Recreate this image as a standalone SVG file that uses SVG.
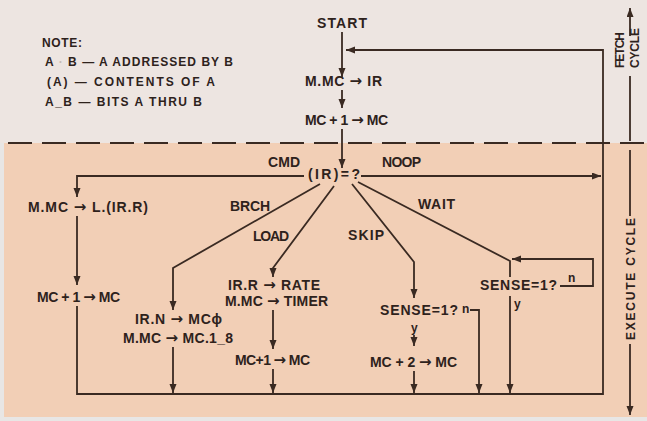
<svg xmlns="http://www.w3.org/2000/svg" width="647" height="421" viewBox="0 0 647 421">
<style>
.t{font-family:"Liberation Sans","DejaVu Sans",sans-serif;font-weight:bold;font-size:14px;fill:#2e221c}
.s{font-size:12px}
.ar{font-family:"DejaVu Sans",sans-serif;font-size:15px}
.l{fill:none;stroke:#3a2a22;stroke-width:1.8}
.a{marker-end:url(#ah)}
</style>
<defs>
<marker id="ah" markerUnits="userSpaceOnUse" markerWidth="10" markerHeight="8" refX="9" refY="3.5" orient="auto">
<path d="M0,0 L9,3.5 L0,7 z" fill="#3a2a22"/>
</marker>
</defs>
<rect x="0" y="0" width="647" height="421" fill="#e8e6e5"/>
<rect x="0" y="0" width="647" height="143" fill="#ede5e1"/>
<rect x="4" y="143" width="643" height="274" fill="#f2cfb6"/>
<path d="M8,143 H647" stroke="#3a2a22" stroke-width="2" stroke-dasharray="24 10" fill="none"/>

<g id="note">
<text class="t s" x="42" y="47" textLength="40" lengthAdjust="spacing">NOTE:</text>
<text class="t s" x="45" y="66" textLength="188" lengthAdjust="spacing">A <tspan fill="#c8bcb6">·</tspan> B — A ADDRESSED BY B</text>
<text class="t s" x="47" y="86" textLength="168" lengthAdjust="spacing">(A) — CONTENTS OF A</text>
<text class="t s" x="45" y="106" textLength="157" lengthAdjust="spacing">A_B — BITS A THRU B</text>
</g>

<g id="start"><text class="t" x="317" y="28" textLength="50" lengthAdjust="spacing">START</text></g>
<g id="fetch1"><text class="t" x="305" y="86" textLength="77" lengthAdjust="spacing">M.MC <tspan class="ar">→</tspan> IR</text></g>
<g id="fetch2"><text class="t" x="305" y="125" textLength="83" lengthAdjust="spacing">MC + 1 <tspan class="ar">→</tspan> MC</text></g>
<g id="decode"><text class="t" x="308" y="179" textLength="52" lengthAdjust="spacing">(IR)=?</text></g>

<g id="cmd1"><text class="t" x="28" y="212" textLength="120" lengthAdjust="spacing">M.MC <tspan class="ar">→</tspan> L.(IR.R)</text></g>
<g id="cmd2"><text class="t" x="37" y="302" textLength="83" lengthAdjust="spacing">MC + 1 <tspan class="ar">→</tspan> MC</text></g>

<g id="brch1"><text class="t" x="135" y="324" textLength="87" lengthAdjust="spacing">IR.N <tspan class="ar">→</tspan> MCϕ</text>
<text class="t" x="123" y="343" textLength="110" lengthAdjust="spacing">M.MC <tspan class="ar">→</tspan> MC.1_8</text></g>

<g id="load1"><text class="t" x="228" y="290" textLength="92" lengthAdjust="spacing">IR.R <tspan class="ar">→</tspan> RATE</text>
<text class="t" x="225" y="306" textLength="103" lengthAdjust="spacing">M.MC <tspan class="ar">→</tspan> TIMER</text></g>
<g id="load2"><text class="t" x="235" y="365" textLength="75" lengthAdjust="spacing">MC+1 <tspan class="ar">→</tspan> MC</text></g>

<g id="skip1"><text class="t" x="380" y="315" textLength="78" lengthAdjust="spacing">SENSE=1?</text></g>
<g id="skip2"><text class="t" x="370" y="367" textLength="87" lengthAdjust="spacing">MC + 2 <tspan class="ar">→</tspan> MC</text></g>

<g id="wait1"><text class="t" x="480" y="290" textLength="77" lengthAdjust="spacing">SENSE=1?</text></g>

<g id="connectors">
<path class="l a" d="M342,32 V77"/>
<path class="l a" d="M342,90 V108"/>
<path class="l a" d="M342,129 V168"/>
<path class="l a" d="M304,176 H77 V197"/>
<path class="l a" d="M361,176 H601"/>
<path class="l a" d="M77,216 V285"/>
<path class="l a" d="M77,306 V394 H603 V50 H346"/>
<path class="l a" d="M320,184 L173,268 V310"/>
<path class="l a" d="M173,347 V393"/>
<path class="l a" d="M334,186 L273,268 V277"/>
<path class="l a" d="M273,310 V349"/>
<path class="l a" d="M273,369 V393"/>
<path class="l a" d="M352,184 L414,262 V298"/>
<path class="l a" d="M414,335 V346"/>
<path class="l a" d="M414,371 V393"/>
<path class="l a" d="M470,310 H479 V393"/>
<path class="l" d="M358,182 L510,261 V277"/>
<path class="l a" d="M510,296 V393"/>
<path class="l a" d="M560,286 H593 V259 H512"/>
<path class="l a" d="M630,36 V8"/>
<path class="l" d="M630,76 V141"/>
<path class="l" d="M630,150 V216"/>
<path class="l a" d="M630,344 V415"/>
</g>

<g id="labels">
<text class="t" x="268" y="167" textLength="32" lengthAdjust="spacing">CMD</text>
<text class="t" x="382" y="167" textLength="39" lengthAdjust="spacing">NOOP</text>
<text class="t" x="230" y="211" textLength="40" lengthAdjust="spacing">BRCH</text>
<text class="t" x="253" y="241" textLength="36" lengthAdjust="spacing">LOAD</text>
<text class="t" x="348" y="240" textLength="36" lengthAdjust="spacing">SKIP</text>
<text class="t" x="418" y="209" textLength="37" lengthAdjust="spacing">WAIT</text>
<text class="t s" x="568" y="282">n</text>
<text class="t s" x="514" y="308">y</text>
<text class="t s" x="462" y="313">n</text>
<text class="t s" x="411" y="332">y</text>
<text class="t s" transform="translate(624,68) rotate(-90)" textLength="36" lengthAdjust="spacing">FETCH</text>
<text class="t s" transform="translate(639,68) rotate(-90)" textLength="40" lengthAdjust="spacing">CYCLE</text>
<text class="t" transform="translate(635,340) rotate(-90)" textLength="122" lengthAdjust="spacing" style="font-size:12px">EXECUTE CYCLE</text>
</g>
</svg>
